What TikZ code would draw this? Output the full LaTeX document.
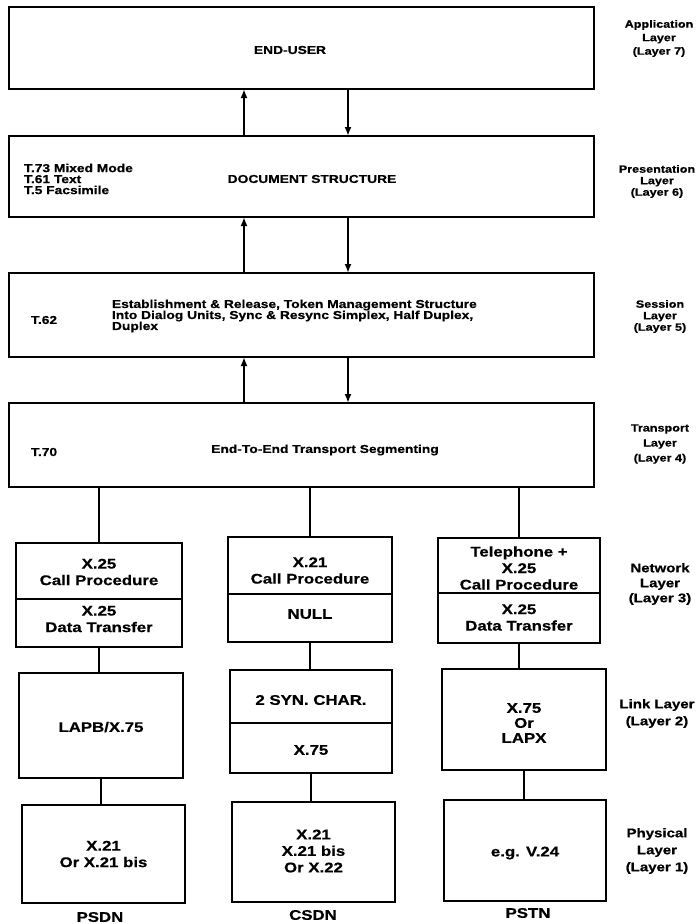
\documentclass[tikz,border=0pt]{standalone}
\usepackage{fontspec}
\setmainfont{Liberation Sans}[FakeStretch=1.2,FakeBold=0.6]
\usetikzlibrary{arrows.meta}
\begin{document}
\begin{tikzpicture}[x=1pt,y=-1pt,
  box/.style={draw, line width=2.6pt, inner sep=0pt, outer sep=0pt},
  divl/.style={line width=2.4pt},
  conn/.style={line width=2.6pt},
  arr/.style={line width=2.4pt, -{Latex[length=9pt,width=7pt]}},
  txt/.style={inner sep=0pt, outer sep=0pt},
  up/.style={txt, font=\bfseries\fontsize{11.5}{11}\selectfont},
  lo/.style={txt, align=center, font=\bfseries\fontsize{14}{16.5}\selectfont},
  lblu/.style={txt, align=center, font=\bfseries\fontsize{10.5}{12.5}\selectfont},
  lbll/.style={txt, align=center, font=\bfseries\fontsize{12.5}{17}\selectfont}]
\useasboundingbox (0,0) rectangle (699,924);

% upper boxes
\node[box, minimum width=585pt, minimum height=82pt] (app)   at (301.5,48) {};
\node[box, minimum width=585pt, minimum height=81pt] (pres)  at (301.5,176.5) {};
\node[box, minimum width=585pt, minimum height=84pt] (sess)  at (301.5,315) {};
\node[box, minimum width=585pt, minimum height=84pt] (trans) at (301.5,445) {};

% network boxes
\node[box, minimum width=166pt, minimum height=104pt] (netL) at (99,595) {};
\node[box, minimum width=164pt, minimum height=105pt] (netM) at (310,589.5) {};
\node[box, minimum width=162pt, minimum height=105pt] (netR) at (519,590.5) {};
\draw[divl] (netL.west |- 0,599) -- (netL.east |- 0,599);
\draw[divl] (netM.west |- 0,594) -- (netM.east |- 0,594);
\draw[divl] (netR.west |- 0,593) -- (netR.east |- 0,593);

% link boxes
\node[box, minimum width=164pt, minimum height=105pt] (linkL) at (101,725.5) {};
\node[box, minimum width=162pt, minimum height=103pt] (linkM) at (311,721.5) {};
\node[box, minimum width=164pt, minimum height=101pt] (linkR) at (524,719.5) {};
\draw[divl] (linkM.west |- 0,723) -- (linkM.east |- 0,723);

% physical boxes
\node[box, minimum width=163pt, minimum height=98pt]  (physL) at (103.5,854) {};
\node[box, minimum width=163pt, minimum height=100pt] (physM) at (313.5,852) {};
\node[box, minimum width=162pt, minimum height=101pt] (physR) at (525,850.5) {};

% arrows between upper boxes
\draw[arr] (pres.north -| 244,0) -- (app.south -| 244,0);
\draw[arr] (app.south -| 348,0) -- (pres.north -| 348,0);
\draw[arr] (sess.north -| 244,0) -- (pres.south -| 244,0);
\draw[arr] (pres.south -| 348,0) -- (sess.north -| 348,0);
\draw[arr] (trans.north -| 244,0) -- (sess.south -| 244,0);
\draw[arr] (sess.south -| 348,0) -- (trans.north -| 348,0);

% transport to network
\draw[conn] (trans.south -| netL.north) -- (netL.north);
\draw[conn] (trans.south -| netM.north) -- (netM.north);
\draw[conn] (trans.south -| netR.north) -- (netR.north);
% network to link
\draw[conn] (netL.south) -- (netL.south |- linkL.north);
\draw[conn] (netM.south) -- (netM.south |- linkM.north);
\draw[conn] (netR.south) -- (netR.south |- linkR.north);
% link to physical
\draw[conn] (linkL.south) -- (linkL.south |- physL.north);
\draw[conn] (linkM.south) -- (linkM.south |- physM.north);
\draw[conn] (linkR.south) -- (linkR.south |- physR.north);

% texts upper
\node[up] (tEnd) at (290,50) {END-USER};
\node[lblu, font=\bfseries\fontsize{10.5}{13.5}\selectfont] (lApp) at (659,38.5) {Application\\Layer\\(Layer 7)};

\node[up, anchor=west, align=left] (tPresL) at (24,179) {T.73 Mixed Mode\\T.61 Text\\T.5 Facsimile};
\node[up] (tDoc) at (312,179) {DOCUMENT STRUCTURE};
\node[lblu, font=\bfseries\fontsize{10.5}{11.5}\selectfont] (lPres) at (657,181.5) {Presentation\\Layer\\(Layer 6)};

\node[up, anchor=west] (tT62) at (31,320) {T.62};
\node[up, anchor=west, align=left] (tSess) at (112,316) {Establishment \& Release, Token Management Structure\\Into Dialog Units, Sync \& Resync Simplex, Half Duplex,\\Duplex};
\node[lblu, font=\bfseries\fontsize{10.5}{11.5}\selectfont] (lSess) at (660,316.5) {Session\\Layer\\(Layer 5)};

\node[up, anchor=west] (tT70) at (31,452) {T.70};
\node[up] (tTrans) at (325,450) {End-To-End Transport Segmenting};
\node[lblu, font=\bfseries\fontsize{10.5}{15}\selectfont] (lTrans) at (660,444) {Transport\\Layer\\(Layer 4)};

% network texts
\node[lo] (tNL1) at (99,572) {X.25\\Call Procedure};
\node[lo] (tNL2) at (99,619) {X.25\\Data Transfer};
\node[lo] (tNM1) at (310,570.5) {X.21\\Call Procedure};
\node[lo] (tNM2) at (310,614) {NULL};
\node[lo] (tNR1) at (519,568) {Telephone +\\X.25\\Call Procedure};
\node[lo] (tNR2) at (519,617.5) {X.25\\Data Transfer};
\node[lbll, font=\bfseries\fontsize{12.5}{15}\selectfont] (lNet) at (660,584) {Network\\Layer\\(Layer 3)};

% link texts
\node[lo] (tLL) at (101,727) {LAPB/X.75};
\node[lo] (tLM1) at (311,700) {2 SYN. CHAR.};
\node[lo] (tLM2) at (311,750) {X.75};
\node[lo, font=\bfseries\fontsize{14}{15}\selectfont] (tLR) at (524,723) {X.75\\Or\\LAPX};
\node[lbll] (lLink) at (657,713.5) {Link Layer\\(Layer 2)};

% physical texts
\node[lo] (tPL) at (103.5,854) {X.21\\Or X.21 bis};
\node[lo] (tPM) at (313.5,851) {X.21\\X.21 bis\\Or X.22};
\node[lo] (tPR) at (525,853) {e.g. V.24};
\node[lbll] (lPhys) at (657,851) {Physical\\Layer\\(Layer 1)};

% network names
\node[lo] (nPSDN) at (100,917) {PSDN};
\node[lo] (nCSDN) at (313,915) {CSDN};
\node[lo] (nPSTN) at (528,913) {PSTN};
\end{tikzpicture}
\end{document}
